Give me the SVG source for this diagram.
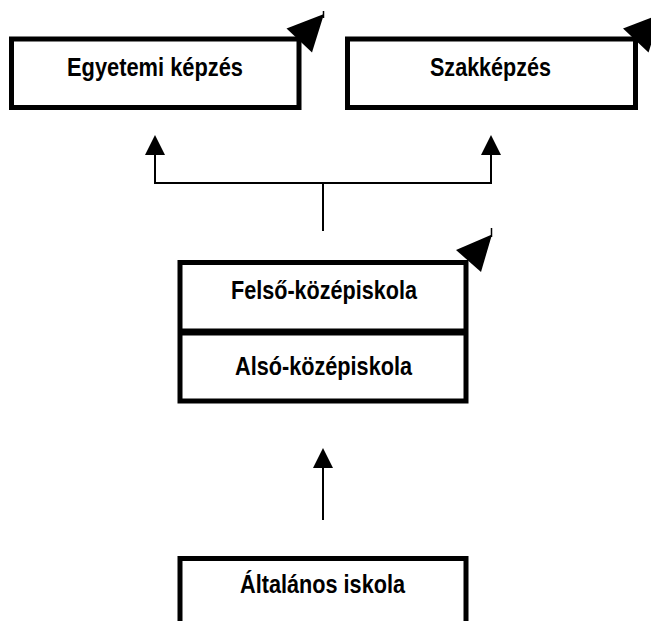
<svg xmlns="http://www.w3.org/2000/svg" width="651" height="621" viewBox="0 0 651 621">
  <style>
    .box { fill: #ffffff; stroke: #000000; stroke-width: 5; }
    .divider { stroke: #000000; stroke-width: 7; }
    .label { font-family: "Liberation Sans", Arial, sans-serif; font-weight: bold; font-size: 26px; fill: #000000; }
    .corner { fill: #000000; }
    .stub { stroke: #000000; stroke-width: 1.5; }
    .link { fill: none; stroke: #000000; stroke-width: 2; }
    .head { fill: #000000; }
  </style>

  <!-- connectors -->
  <g id="connectors">
    <!-- fork from the secondary school up to both higher levels -->
    <polyline class="link" points="155,155 155,183 491,183 491,155"/>
    <line class="link" x1="323" y1="183" x2="323" y2="231"/>
    <polygon class="head" points="155,135 145,155 165,155"/>
    <polygon class="head" points="491,135 481,155 501,155"/>
    <!-- primary school up to lower secondary -->
    <line class="link" x1="323" y1="468" x2="323" y2="520"/>
    <polygon class="head" points="323,448 313,468 333,468"/>
  </g>

  <!-- university education -->
  <g id="node-egyetemi">
    <rect class="box" x="11.5" y="39" width="287.5" height="68.5"/>
    <polygon class="corner" points="286.5,28.5 324,14 312,52.5"/>
    <line class="stub" x1="323.5" y1="11" x2="323.5" y2="18"/>
    <text class="label" x="67" y="76" textLength="176" lengthAdjust="spacingAndGlyphs">Egyetemi képzés</text>
  </g>

  <!-- vocational training -->
  <g id="node-szakkepzes">
    <rect class="box" x="347.5" y="39" width="288" height="68.5"/>
    <polygon class="corner" points="623,28.5 660.5,14 648.5,52.5"/>
    <text class="label" x="430" y="76" textLength="121" lengthAdjust="spacingAndGlyphs">Szakképzés</text>
  </g>

  <!-- upper / lower secondary school -->
  <g id="node-kozepiskola">
    <rect class="box" x="180" y="262.5" width="286" height="138.5"/>
    <line class="divider" x1="180" y1="332" x2="466" y2="332"/>
    <polygon class="corner" points="456,250 492,234.5 481,272"/>
    <line class="stub" x1="491.5" y1="228" x2="491.5" y2="237"/>
    <text class="label" x="231" y="299" textLength="186" lengthAdjust="spacingAndGlyphs">Felső-középiskola</text>
    <text class="label" x="235" y="375" textLength="177" lengthAdjust="spacingAndGlyphs">Alsó-középiskola</text>
  </g>

  <!-- primary school -->
  <g id="node-altalanos">
    <rect class="box" x="180" y="558.5" width="286" height="80"/>
    <text class="label" x="240" y="593" textLength="165" lengthAdjust="spacingAndGlyphs">Általános iskola</text>
  </g>
</svg>
